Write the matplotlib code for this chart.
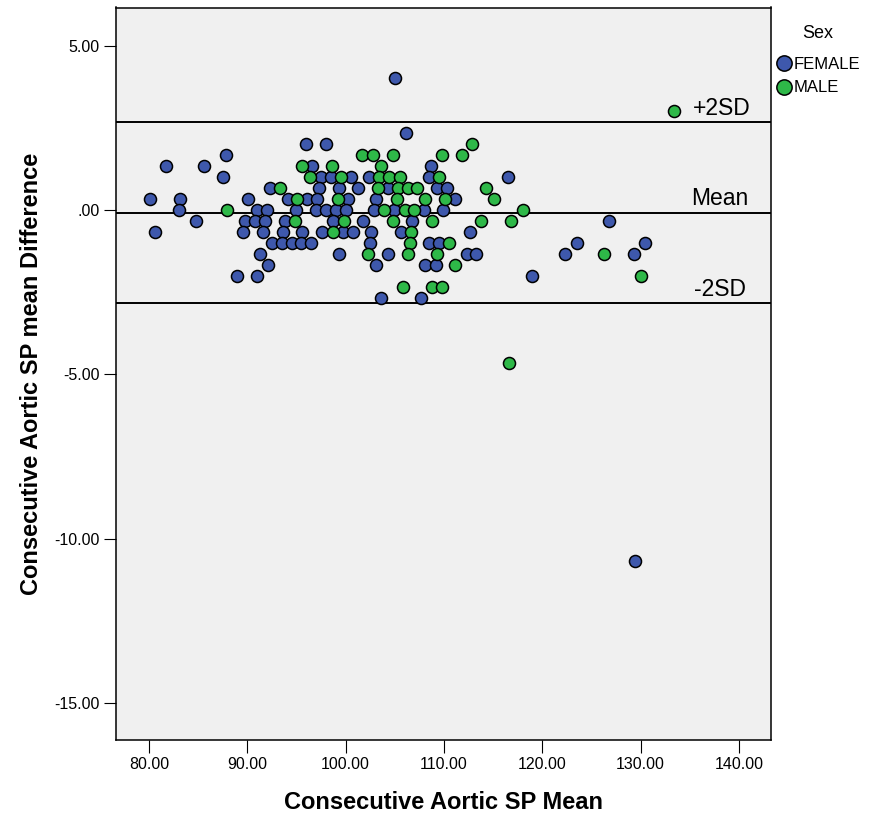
import matplotlib
matplotlib.use("Agg")
import matplotlib.pyplot as plt
from matplotlib.lines import Line2D

# Bland-Altman style data (mean vs difference).
female_mean = [105.0, 106.1, 96.0, 98.0, 87.8,
               81.7, 85.6, 96.6, 108.7,
               87.5, 97.5, 98.5, 100.5, 102.4, 108.5, 116.5,
               92.3, 97.3, 99.3, 101.3, 104.3, 109.3, 110.3,
               80.1, 83.1, 90.1, 94.1, 96.1, 97.1, 100.2, 103.1, 111.1,
               83.0, 91.0, 92.0, 94.9, 97.0, 98.0, 99.0, 100.0, 102.9, 104.9, 108.0, 109.9,
               84.8, 89.8, 90.8, 91.8, 93.8, 98.7, 101.8, 106.8, 126.8,
               80.6, 89.6, 91.6, 93.6, 95.6, 97.6, 99.7, 100.7, 102.6, 105.6, 112.7,
               92.5, 93.5, 94.5, 95.5, 96.5, 102.5, 108.5, 109.5, 123.5, 130.5,
               91.3, 99.3, 104.3, 112.3, 113.3, 122.3, 129.3,
               92.1, 103.1, 108.1, 109.2,
               88.9, 91.0, 119.0,
               103.6, 107.7,
               129.4]
female_diff = [4.0, 2.33, 2.0, 2.0, 1.67,
               1.33, 1.33, 1.33, 1.33,
               1.0, 1.0, 1.0, 1.0, 1.0, 1.0, 1.0,
               0.67, 0.67, 0.67, 0.67, 0.67, 0.67, 0.67,
               0.33, 0.33, 0.33, 0.33, 0.33, 0.33, 0.33, 0.33, 0.33,
               0.0, 0.0, 0.0, 0.0, 0.0, 0.0, 0.0, 0.0, 0.0, 0.0, 0.0, 0.0,
               -0.33, -0.33, -0.33, -0.33, -0.33, -0.33, -0.33, -0.33, -0.33,
               -0.67, -0.67, -0.67, -0.67, -0.67, -0.67, -0.67, -0.67, -0.67, -0.67, -0.67,
               -1.0, -1.0, -1.0, -1.0, -1.0, -1.0, -1.0, -1.0, -1.0, -1.0,
               -1.33, -1.33, -1.33, -1.33, -1.33, -1.33, -1.33,
               -1.67, -1.67, -1.67, -1.67,
               -2.0, -2.0, -2.0,
               -2.67, -2.67,
               -10.67]

male_mean = [133.4, 112.9,
             101.7, 102.8, 104.8, 109.8, 111.8,
             95.6, 98.6, 103.6,
             96.4, 99.5, 103.4, 104.4, 105.5, 109.5,
             93.3, 103.3, 105.3, 106.3, 107.3, 114.3,
             95.1, 99.2, 105.2, 108.1, 110.1, 115.1,
             87.9, 103.9, 106.0, 107.0, 118.0,
             94.8, 99.8, 104.8, 108.8, 113.8, 116.8,
             98.7, 106.6,
             106.5, 110.5,
             102.3, 106.3, 109.3, 126.3,
             111.1,
             130.0,
             105.8, 108.8, 109.8,
             116.6]
male_diff = [3.0, 2.0,
             1.67, 1.67, 1.67, 1.67, 1.67,
             1.33, 1.33, 1.33,
             1.0, 1.0, 1.0, 1.0, 1.0, 1.0,
             0.67, 0.67, 0.67, 0.67, 0.67, 0.67,
             0.33, 0.33, 0.33, 0.33, 0.33, 0.33,
             0.0, 0.0, 0.0, 0.0, 0.0,
             -0.33, -0.33, -0.33, -0.33, -0.33, -0.33,
             -0.67, -0.67,
             -1.0, -1.0,
             -1.33, -1.33, -1.33, -1.33,
             -1.67,
             -2.0,
             -2.33, -2.33, -2.33,
             -4.67]

# Reference lines (mean difference and limits of agreement)
mean_diff = -0.08
upper_sd = 2.67
lower_sd = -2.84

x_ticks = [80, 90, 100, 110, 120, 130, 140]
x_tick_labels = ["80.00", "90.00", "100.00", "110.00", "120.00", "130.00", "140.00"]
y_ticks = [5, 0, -5, -10, -15]
y_tick_labels = ["5.00", ".00", "-5.00", "-10.00", "-15.00"]

blue = "#3E58AC"
green = "#2EB848"

plt.rcParams['font.family'] = ['Liberation Sans', 'DejaVu Sans']

fig = plt.figure(figsize=(8.7, 8.18), dpi=100)
ax = fig.add_axes([116/870, 78/818, 655/870, 732.5/818])
ax.set_facecolor("#F0F0F0")

ax.scatter(female_mean, female_diff, s=75, c=blue, edgecolors="black",
           linewidths=1.1, zorder=3)
ax.scatter(male_mean, male_diff, s=75, c=green, edgecolors="black",
           linewidths=1.1, zorder=3)

for yv in [upper_sd, mean_diff, lower_sd]:
    ax.axhline(yv, color="black", lw=1.4, zorder=2)

ax.text(135.3, upper_sd + 0.22, "+2SD", fontsize=16.5, ha="left", va="baseline")
ax.text(135.1, mean_diff + 0.22, "Mean", fontsize=16.5, ha="left", va="baseline")
ax.text(135.4, lower_sd + 0.22, "-2SD", fontsize=16.5, ha="left", va="baseline")

ax.set_xlim(76.64, 143.27)
ax.set_ylim(-16.13, 6.16)
ax.set_xticks(x_ticks)
ax.set_xticklabels(x_tick_labels)
ax.set_yticks(y_ticks)
ax.set_yticklabels(y_tick_labels)
ax.tick_params(axis="both", direction="out", length=9, width=0.8,
               labelsize=11.5, pad=3)
for sp in ax.spines.values():
    sp.set_linewidth(1.1)

ax.set_xlabel("Consecutive Aortic SP Mean", fontsize=17, fontweight="bold",
              labelpad=14)
ax.set_ylabel("Consecutive Aortic SP mean Difference", fontsize=17,
              fontweight="bold", labelpad=8)

# Legend: title as plain text, entries below it
fig.text(818/870, 1 - 33/818, "Sex", fontsize=13, ha="center", va="center")
handles = [Line2D([], [], marker="o", ls="", markersize=11, markerfacecolor=blue,
                  markeredgecolor="black", markeredgewidth=1.1, label="FEMALE"),
           Line2D([], [], marker="o", ls="", markersize=11, markerfacecolor=green,
                  markeredgecolor="black", markeredgewidth=1.1, label="MALE")]
leg = ax.legend(handles=handles, loc="upper left",
                bbox_to_anchor=(776/870, 1 - 57/818), bbox_transform=fig.transFigure,
                frameon=False, fontsize=12, handletextpad=0.05,
                labelspacing=0.5, handlelength=1.0,
                borderpad=0, borderaxespad=0)

fig.savefig("out.png", dpi=100)
